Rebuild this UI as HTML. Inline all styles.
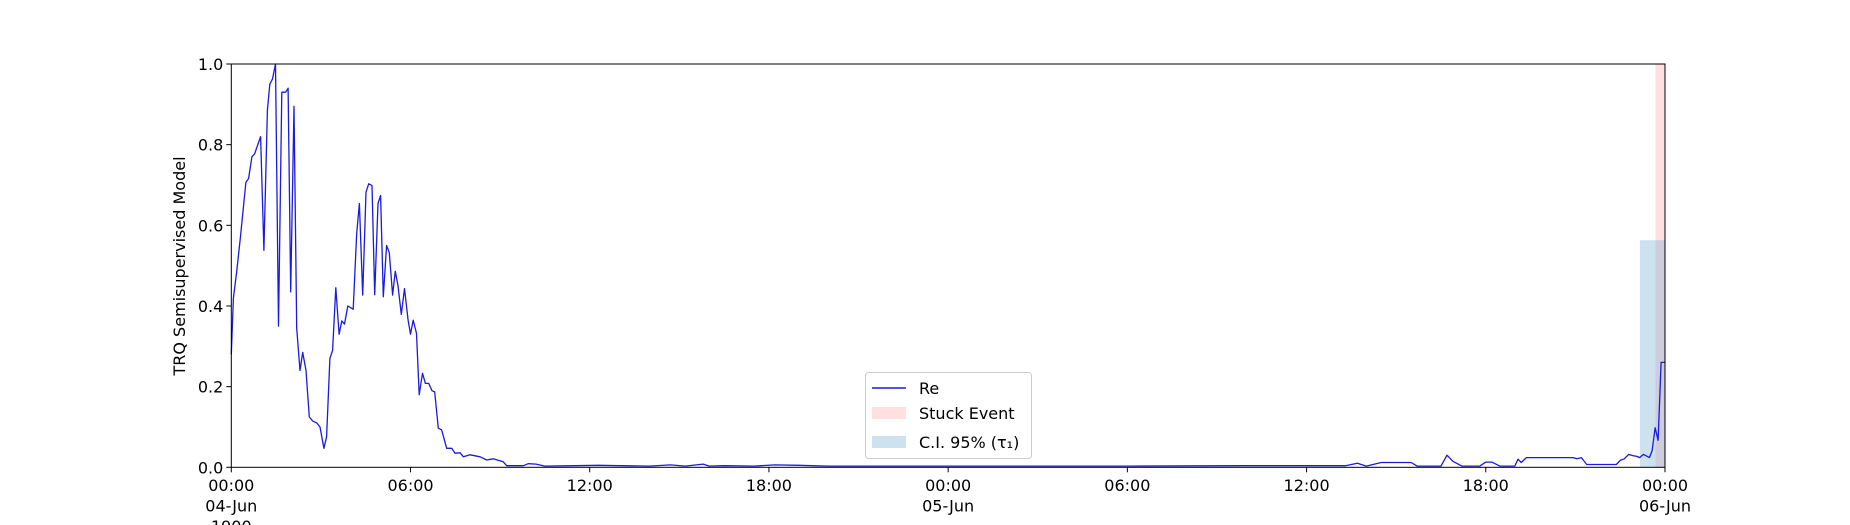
<!DOCTYPE html>
<html><head><meta charset="utf-8"><style>
html,body{margin:0;padding:0;background:#fff;}
svg{display:block;font-family:"DejaVu Sans","Liberation Sans",sans-serif;}
</style></head><body>
<svg id="chart" width="1850" height="525" viewBox="0 0 1850 525">
<g id="plot"></g>
</svg>
<script>
const timeHours=[0,0.07,0.18,0.31,0.49,0.58,0.69,0.78,0.98,1.09,1.21,1.29,1.38,1.48,1.58,1.69,1.82,1.9,1.99,2.1,2.19,2.3,2.39,2.5,2.61,2.72,2.86,2.97,3.1,3.19,3.3,3.39,3.5,3.61,3.7,3.79,3.9,4.08,4.2,4.29,4.4,4.51,4.6,4.71,4.8,4.91,5.0,5.09,5.2,5.29,5.4,5.49,5.58,5.69,5.8,5.92,6.0,6.09,6.2,6.29,6.4,6.5,6.61,6.72,6.81,6.93,7.04,7.21,7.38,7.49,7.66,7.77,7.99,8.33,8.55,8.77,9.1,9.22,9.78,9.94,10.2,10.5,11.5,12.3,13,14,14.7,15.2,15.8,16,16.5,17.5,18.2,19,20,24,30,34,36,37.3,37.7,38,38.5,39.5,39.7,40,40.5,40.7,40.9,41.2,41.8,42,42.2,42.47,42.97,43.08,43.19,43.36,44.92,45.05,45.2,45.38,46.37,46.5,46.64,46.78,46.92,47.06,47.15,47.28,47.48,47.57,47.67,47.77,47.87,48];
const reValues=[0.28,0.42,0.485,0.575,0.707,0.716,0.77,0.777,0.82,0.538,0.885,0.95,0.963,1.0,0.35,0.93,0.93,0.94,0.435,0.895,0.345,0.24,0.285,0.24,0.125,0.115,0.11,0.10,0.047,0.076,0.27,0.29,0.445,0.33,0.363,0.355,0.40,0.392,0.58,0.654,0.427,0.682,0.703,0.699,0.428,0.654,0.674,0.423,0.55,0.532,0.427,0.486,0.45,0.379,0.443,0.365,0.33,0.365,0.332,0.18,0.233,0.208,0.208,0.19,0.187,0.097,0.093,0.047,0.047,0.035,0.036,0.026,0.031,0.026,0.018,0.021,0.014,0.004,0.004,0.009,0.008,0.003,0.004,0.005,0.004,0.003,0.006,0.003,0.008,0.003,0.004,0.003,0.006,0.005,0.003,0.003,0.003,0.004,0.004,0.004,0.01,0.003,0.012,0.012,0.003,0.003,0.003,0.03,0.015,0.003,0.003,0.013,0.013,0.003,0.003,0.02,0.012,0.024,0.024,0.021,0.024,0.007,0.007,0.017,0.021,0.032,0.029,0.027,0.024,0.032,0.024,0.042,0.098,0.067,0.26,0.26];
const yTicks=[0,0.2,0.4,0.6,0.8,1.0];
const xTickHours=[0,6,12,18,24,30,36,42,48];
const xTickLabels=["00:00\n04-Jun\n1900","06:00","12:00","18:00","00:00\n05-Jun","06:00","12:00","18:00","00:00\n06-Jun"];
const stuckEvent=[47.68,48];
const ciInterval=[47.16,48];
const ciHeight=[0.563];

const X0=231.3,X1=1665,Y0=467.3,Y1=64;
const NS="http://www.w3.org/2000/svg";
const xs=h=>X0+(X1-X0)*h/48;
const ys=v=>Y0-(Y0-Y1)*v;
const svg=document.getElementById('chart');
function mk(tag,attrs,parent){const e=document.createElementNS(NS,tag);for(const k in attrs)e.setAttribute(k,attrs[k]);(parent||svg).appendChild(e);return e;}

let r=mk('rect',{x:xs(stuckEvent[0]),y:Y1,width:xs(stuckEvent[1])-xs(stuckEvent[0]),height:Y0-Y1,fill:'#ffc0c6',opacity:0.5});


r=mk('rect',{x:xs(ciInterval[0]),y:ys(ciHeight[0]),width:xs(ciInterval[1])-xs(ciInterval[0]),height:Y0-ys(ciHeight[0]),fill:'#7bafd4',opacity:0.38});



let d=timeHours.map((h,i)=>(i?'L':'M')+xs(h).toFixed(1)+' '+ys(reValues[i]).toFixed(1)).join(' ');
let p=mk('path',{d:d,fill:'none',stroke:'#1a1ae0','stroke-width':1.3,'stroke-linejoin':'round'});



let fr=mk('rect',{x:X0,y:Y1,width:X1-X0,height:Y0-Y1,fill:'none',stroke:'#000','stroke-width':1});



yTicks.forEach(v=>{
  const y=ys(v);
  const t=mk('line',{x1:X0-5,x2:X0,y1:y,y2:y,stroke:'#000'});
  
  
  const tx=mk('text',{x:X0-8,y:y+6,'text-anchor':'end','font-size':16});
  tx.textContent=v.toFixed(1);
  
  
});
xTickHours.forEach((h,i)=>{
  const x=xs(h);
  const t=mk('line',{x1:x,x2:x,y1:Y0,y2:Y0+5,stroke:'#000'});
  
  
  xTickLabels[i].split('\n').forEach((s,j)=>{
    const tx=mk('text',{x:x,y:491+j*20.5,'text-anchor':'middle','font-size':16});
    tx.textContent=s;
    
    
  });
});
let yl=mk('text',{x:0,y:0,'text-anchor':'middle','font-size':16,transform:'translate(185,266) rotate(-90)'});
yl.textContent='TRQ Semisupervised Model';



const lg=mk('g',{});


mk('rect',{x:865.5,y:372.5,width:166,height:86,rx:3,fill:'#fff','fill-opacity':0.8,stroke:'#ccc'},lg);
let e=mk('line',{x1:872,x2:906,y1:388,y2:388,stroke:'#1a1ae0','stroke-width':1.5},lg);


e=mk('rect',{x:872,y:407,width:34,height:12,fill:'#ffc0c6',opacity:0.5},lg);


e=mk('rect',{x:872,y:436,width:34,height:12,fill:'#7bafd4',opacity:0.38},lg);


[['Re',394,'legend-re'],['Stuck Event',419,'legend-stuck-event'],['C.I. 95% (τ₁)',448,'legend-ci']].forEach(a=>{
  const t=mk('text',{x:919,y:a[1],'font-size':16},lg);
  t.textContent=a[0];
  
  
});
</script>
</body></html>
